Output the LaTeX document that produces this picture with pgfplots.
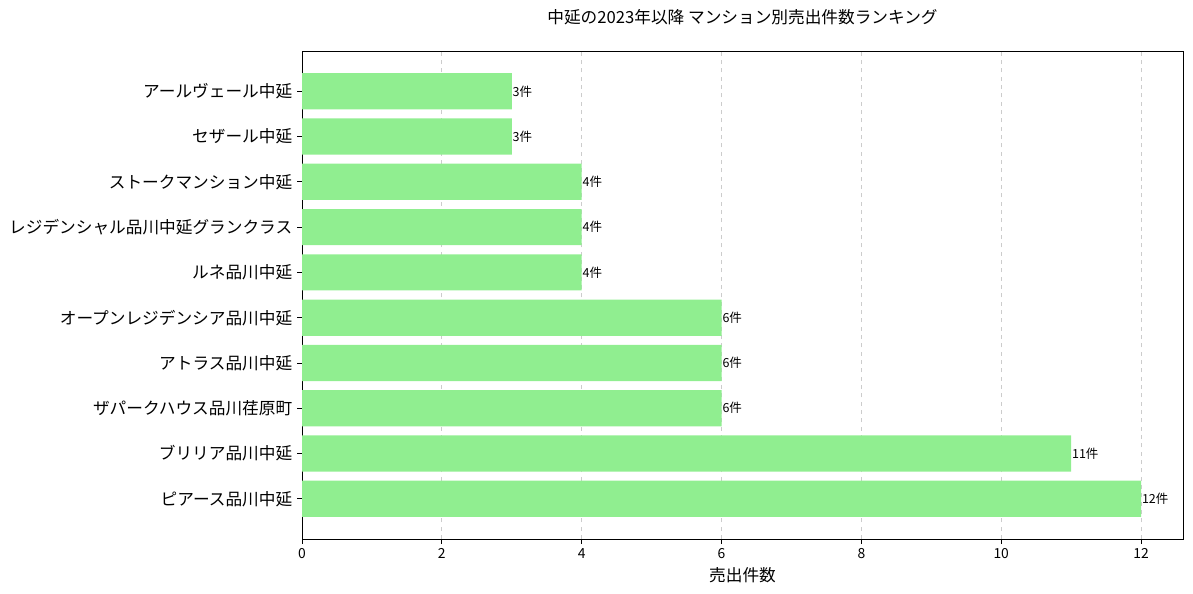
\documentclass[border=0pt]{standalone}
\usepackage{pgfplots}
\pgfplotsset{compat=1.18}
\usepackage{fontspec}
\setmainfont{Noto Sans CJK JP}
\definecolor{barc}{HTML}{90EE90}
\definecolor{gridc}{HTML}{CCCCCC}
\begin{document}
\begin{tikzpicture}
\begin{axis}[
  name=ax,
  scale only axis,
  width=634.3pt, height=351.4pt,
  xbar, bar width=0.8,
  xmin=0, xmax=12.6,
  ymin=-0.89, ymax=9.89,
  xtick={0,2,4,6,8,10,12},
  ytick={0,...,9},
  yticklabels={ピアース品川中延,ブリリア品川中延,ザパークハウス品川荏原町,アトラス品川中延,オープンレジデンシア品川中延,ルネ品川中延,レジデンシャル品川中延グランクラス,ストークマンション中延,セザール中延,アールヴェール中延},
  yticklabel style={font=\fontsize{12}{14}\selectfont},
  xticklabel style={font=\fontsize{10}{12}\selectfont},
  /pgf/number format/assume math mode=true,
  tick align=outside,
  xtick pos=bottom, ytick pos=left,
  major tick length=3.5pt,
  tick style={black, line width=0.6pt},
  axis line style={line width=0.6pt},
  xmajorgrids,
  grid style={gridc, dashed, line width=0.6pt},
  axis on top=false,
  nodes near coords={\pgfmathprintnumber{\pgfplotspointmeta}件},
  nodes near coords style={font=\fontsize{9}{10}\selectfont, anchor=west, inner sep=0.5pt, black},
  point meta=x,
  xlabel={売出件数},
  xlabel style={font=\fontsize{12}{14}\selectfont, at={(0.5,0)}, anchor=center, yshift=-25.9pt},
  title={中延の2023年以降 マンション別売出件数ランキング},
  title style={font=\fontsize{12}{14}\selectfont, at={(0.5,1)}, anchor=center, yshift=18.7pt},
]
\addplot[fill=barc, draw=none] coordinates {
(12,0) (11,1) (6,2) (6,3) (6,4) (4,5) (4,6) (4,7) (3,8) (3,9)
};
\end{axis}
\pgfresetboundingbox
\path[use as bounding box] ([shift={(-217.44pt,-38.88pt)}]ax.south west) rectangle ([shift={(7.2pt,36.72pt)}]ax.north east);
\end{tikzpicture}
\end{document}
